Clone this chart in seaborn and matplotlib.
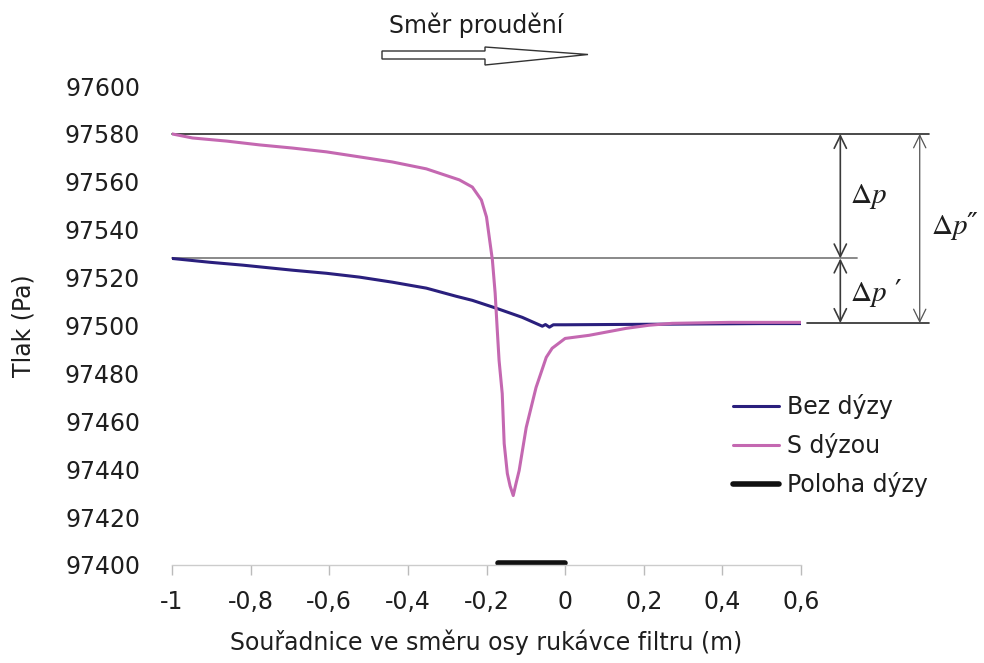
import matplotlib
matplotlib.use("Agg")
import matplotlib.pyplot as plt
import pandas as pd
import seaborn as sns
from matplotlib.patches import Polygon
from matplotlib.lines import Line2D

# Pressure along the filter sleeve axis, without the nozzle
x_bez = [-1.0, -0.904, -0.82, -0.694, -0.607, -0.523, -0.44, -0.353, -0.277,
         -0.236, -0.175, -0.109, -0.058, -0.05, -0.04, -0.03, 0.0, 0.1, 0.2,
         0.3, 0.4, 0.5, 0.6]
p_bez = [97528, 97526.4, 97525.2, 97523.1, 97521.8, 97520.2, 97518.1, 97515.6,
         97512.2, 97510.5, 97507.2, 97503.4, 97499.7, 97500.4, 97499.3, 97500.3,
         97500.3, 97500.4, 97500.5, 97500.6, 97500.7, 97500.8, 97500.8]

# Pressure along the filter sleeve axis, with the nozzle
x_s = [-1.0, -0.948, -0.861, -0.777, -0.694, -0.607, -0.523, -0.44, -0.353,
       -0.269, -0.236, -0.213, -0.2, -0.193, -0.185, -0.178, -0.173, -0.168,
       -0.16, -0.155, -0.147, -0.14, -0.132, -0.125, -0.117, -0.099, -0.074,
       -0.048, -0.033, 0.0, 0.061, 0.155, 0.213, 0.272, 0.417, 0.6]
p_s = [97580, 97578.3, 97577, 97575.4, 97574.1, 97572.5, 97570.4, 97568.3,
       97565.4, 97560.8, 97557.8, 97552.4, 97545.3, 97536.9, 97527.3, 97513.5,
       97499.2, 97485.4, 97471.6, 97450.7, 97438.2, 97433, 97429, 97434,
       97439.4, 97457.4, 97474.1, 97486.7, 97490.5, 97494.6, 97495.9, 97498.8,
       97500.1, 97500.9, 97501.3, 97501.3]

# Nozzle position along the axis
x_nozzle = [-0.17, 0.0]
p_nozzle = [97401, 97401]

# Reference pressure levels for the differences
p_top = 97580
p_mid = 97528
p_low = 97501

xticks = [-1.0, -0.8, -0.6, -0.4, -0.2, 0.0, 0.2, 0.4, 0.6]
xtick_labels = ["-1", "-0,8", "-0,6", "-0,4", "-0,2", "0", "0,2", "0,4", "0,6"]
yticks = [97400, 97420, 97440, 97460, 97480, 97500, 97520, 97540, 97560, 97580, 97600]

labels = ["Bez dýzy", "S dýzou", "Poloha dýzy"]
c_bez = "#2a1f7d"
c_s = "#c468b1"
c_text = "#1e1e1e"

sns.set_style("white")
plt.rcParams["font.family"] = ["DejaVu Sans"]
plt.rcParams["mathtext.fontset"] = "stix"

W, H = 984, 663
fig = plt.figure(figsize=(W / 100, H / 100), dpi=100)
ax = fig.add_axes([172 / W, 1 - 565 / H, (801 - 172) / W, (565 - 86) / H])

df_bez = pd.DataFrame({"x": x_bez, "p": p_bez})
df_s = pd.DataFrame({"x": x_s, "p": p_s})
df_noz = pd.DataFrame({"x": x_nozzle, "p": p_nozzle})

sns.lineplot(data=df_bez, x="x", y="p", ax=ax, color=c_bez, lw=2.2,
             sort=False, estimator=None)
sns.lineplot(data=df_s, x="x", y="p", ax=ax, color=c_s, lw=2.2,
             sort=False, estimator=None)
sns.lineplot(data=df_noz, x="x", y="p", ax=ax, color="#111111", lw=4,
             sort=False, estimator=None, clip_on=False)

ax.set_xlim(-1.0, 0.6)
ax.set_ylim(97400, 97600)
ax.set_xticks(xticks)
ax.set_xticklabels(xtick_labels)
ax.set_yticks(yticks)
ax.set_yticklabels([str(v) for v in yticks])
ax.tick_params(axis="x", length=7, width=1, color="#bbbbbb", direction="out",
               pad=11, labelsize=17, labelcolor=c_text, bottom=True)
ax.tick_params(axis="y", length=0, pad=23, labelsize=17, labelcolor=c_text)
for side in ["left", "right", "top"]:
    ax.spines[side].set_visible(False)
ax.spines["bottom"].set_color("#cccccc")
ax.spines["bottom"].set_linewidth(1)

ax.set_xlabel("Souřadnice ve směru osy rukávce filtru (m)", fontsize=17,
              color=c_text, labelpad=11)
ax.set_ylabel("Tlak (Pa)", fontsize=17, color=c_text, labelpad=21)

# Reference lines for the pressure differences
ax.plot([-1.0, 0.925], [p_top, p_top], color="#2a2a2a", lw=1.2, clip_on=False, zorder=1)
ax.plot([-1.0, 0.742], [p_mid, p_mid], color="#808080", lw=1.3, clip_on=False, zorder=1)
ax.plot([0.615, 0.925], [p_low, p_low], color="#2a2a2a", lw=1.2, clip_on=False, zorder=1)

arrow_kw = dict(arrowstyle="<->,head_length=0.45,head_width=0.22",
                shrinkA=0, shrinkB=0, mutation_scale=20)
ax.annotate("", xy=(0.70, p_top), xytext=(0.70, p_mid), annotation_clip=False,
            arrowprops=dict(color="#3a3a3a", lw=1.2, **arrow_kw))
ax.annotate("", xy=(0.70, p_mid), xytext=(0.70, p_low), annotation_clip=False,
            arrowprops=dict(color="#3a3a3a", lw=1.2, **arrow_kw))
ax.annotate("", xy=(0.902, p_top), xytext=(0.902, p_low), annotation_clip=False,
            arrowprops=dict(color="#555555", lw=0.9, **arrow_kw))

ax.text(0.725, (p_top + p_mid) / 2, r"$\Delta p$", fontsize=21, ha="left",
        va="center", color=c_text, clip_on=False)
ax.text(0.725, (p_mid + p_low) / 2 - 1, r"$\Delta p$ ′", fontsize=21, ha="left",
        va="center", color=c_text, clip_on=False, family="DejaVu Serif")
ax.text(0.93, (p_top + p_low) / 2 + 1, r"$\Delta p$″", fontsize=21, ha="left",
        va="center", color=c_text, clip_on=False, family="DejaVu Serif")

# Flow direction heading with a hollow arrow
fig.text(476 / W, 1 - 33 / H, "Směr proudění", fontsize=17, ha="center",
         va="baseline", color=c_text)
arrow_px = [(382, 51), (485, 51), (485, 47), (588, 54.5), (485, 65), (485, 59), (382, 59)]
fig.patches.append(Polygon([(px / W, 1 - py / H) for px, py in arrow_px],
                           closed=True, facecolor="white", edgecolor="#333333",
                           lw=1.0, transform=fig.transFigure, figure=fig))

handles = [Line2D([], [], color=c_bez, lw=2.2),
           Line2D([], [], color=c_s, lw=2.2),
           Line2D([], [], color="#111111", lw=4)]
fig.legend(handles, labels, loc="upper left", bbox_to_anchor=(733 / W, 1 - 394 / H),
           frameon=False, fontsize=17, handlelength=1.95, handletextpad=0.35,
           labelspacing=0.6, borderpad=0, borderaxespad=0,
           labelcolor=c_text)

fig.savefig("out.png", dpi=100, facecolor="white")
